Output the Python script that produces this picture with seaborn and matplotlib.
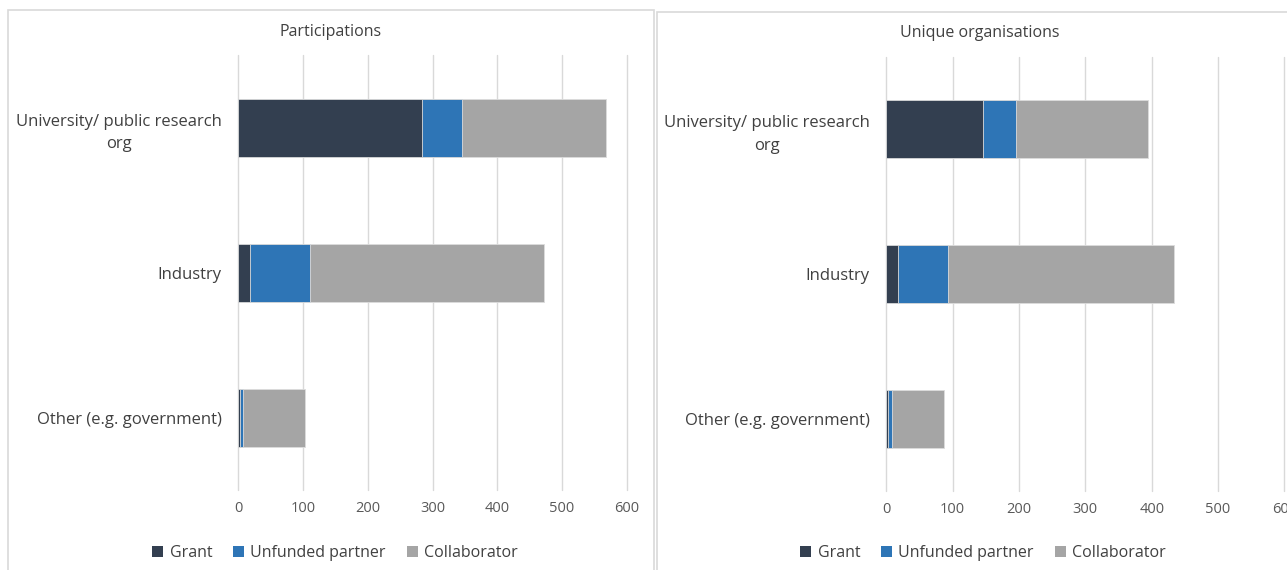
import matplotlib
matplotlib.use("Agg")
import matplotlib.pyplot as plt
from matplotlib.patches import Patch, Rectangle
import seaborn as sns
import pandas as pd

# Datos
categories = ["University/ public research\norg", "Industry", "Other (e.g. government)"]
series = ["Grant", "Unfunded partner", "Collaborator"]

part_grant = [284, 18, 2]
part_unfunded = [62, 92, 6]
part_collab = [222, 363, 95]

org_grant = [146, 17, 3]
org_unfunded = [49, 76, 5]
org_collab = [200, 340, 79]

colors = {"Grant": "#333F50", "Unfunded partner": "#2E75B6", "Collaborator": "#A5A5A5"}
TEXT = "#595959"

sns.set_theme(style="white")
plt.rcParams["font.family"] = ["Open Sans", "DejaVu Sans"]

fig = plt.figure(figsize=(12.87, 5.70), dpi=100)

W, H = 1287, 570


def fx(px):
    return px / W


def fy(py):
    return 1 - py / H


# marcos de los dos paneles
fig.add_artist(Rectangle((fx(8), fy(575)), fx(646), fy(10) - fy(575), transform=fig.transFigure,
                         fill=False, edgecolor="#d9d9d9", linewidth=1.2))
fig.add_artist(Rectangle((fx(657), fy(575)), fx(650), fy(12) - fy(575), transform=fig.transFigure,
                         fill=False, edgecolor="#d9d9d9", linewidth=1.2))


def stacked(ax, grant, unfunded, collab, title, title_x, title_y, leg_x):
    df = pd.DataFrame({"cat": categories, "Grant": grant,
                       "Unfunded partner": unfunded, "Collaborator": collab})
    df["c1"] = df["Grant"]
    df["c2"] = df["Grant"] + df["Unfunded partner"]
    df["c3"] = df["c2"] + df["Collaborator"]
    # dibujar de la suma total hacia atras para apilar
    for col, name in [("c3", "Collaborator"), ("c2", "Unfunded partner"), ("c1", "Grant")]:
        sns.barplot(data=df, x=col, y="cat", orient="h", color=colors[name], saturation=1,
                    width=0.4, ax=ax, edgecolor="#dcdcdc", linewidth=0.6)
    ax.set_xlim(0, 600)
    ax.set_xticks(range(0, 601, 100))
    ax.set_xlabel("")
    ax.set_ylabel("")
    ax.grid(axis="x", color="#d9d9d9", linewidth=1)
    ax.set_axisbelow(True)
    for gl in ax.get_xgridlines():
        gl.set_clip_on(False)
    for s in ax.spines.values():
        s.set_visible(False)
    ax.tick_params(axis="x", length=0, pad=8, labelsize=10.5, labelcolor=TEXT)
    ax.tick_params(axis="y", length=0, pad=12, labelsize=12, labelcolor="#404040")
    for lab in ax.get_yticklabels():
        lab.set_multialignment("center")
        lab.set_linespacing(1.55)
    fig.text(fx(title_x), fy(title_y), title, ha="center", va="center", fontsize=11.5, color="#404040")
    handles = [Patch(facecolor=colors[s], edgecolor="none") for s in series]
    fig.legend(handles, series, loc="center", bbox_to_anchor=(fx(leg_x), fy(553)), ncol=3,
               frameon=False, fontsize=11.5, labelcolor="#404040", handlelength=0.7,
               handleheight=0.7, handletextpad=0.4, columnspacing=1.3)


ax1 = fig.add_axes([fx(238.3), fy(490), fx(626.7) - fx(238.3), fy(55) - fy(490)])
stacked(ax1, part_grant, part_unfunded, part_collab, "Participations", 331, 32, 335)

ax2 = fig.add_axes([fx(886.3), fy(491), fx(1284.4) - fx(886.3), fy(57) - fy(491)])
stacked(ax2, org_grant, org_unfunded, org_collab, "Unique organisations", 980, 33, 983)

fig.savefig("out.png", dpi=100)
